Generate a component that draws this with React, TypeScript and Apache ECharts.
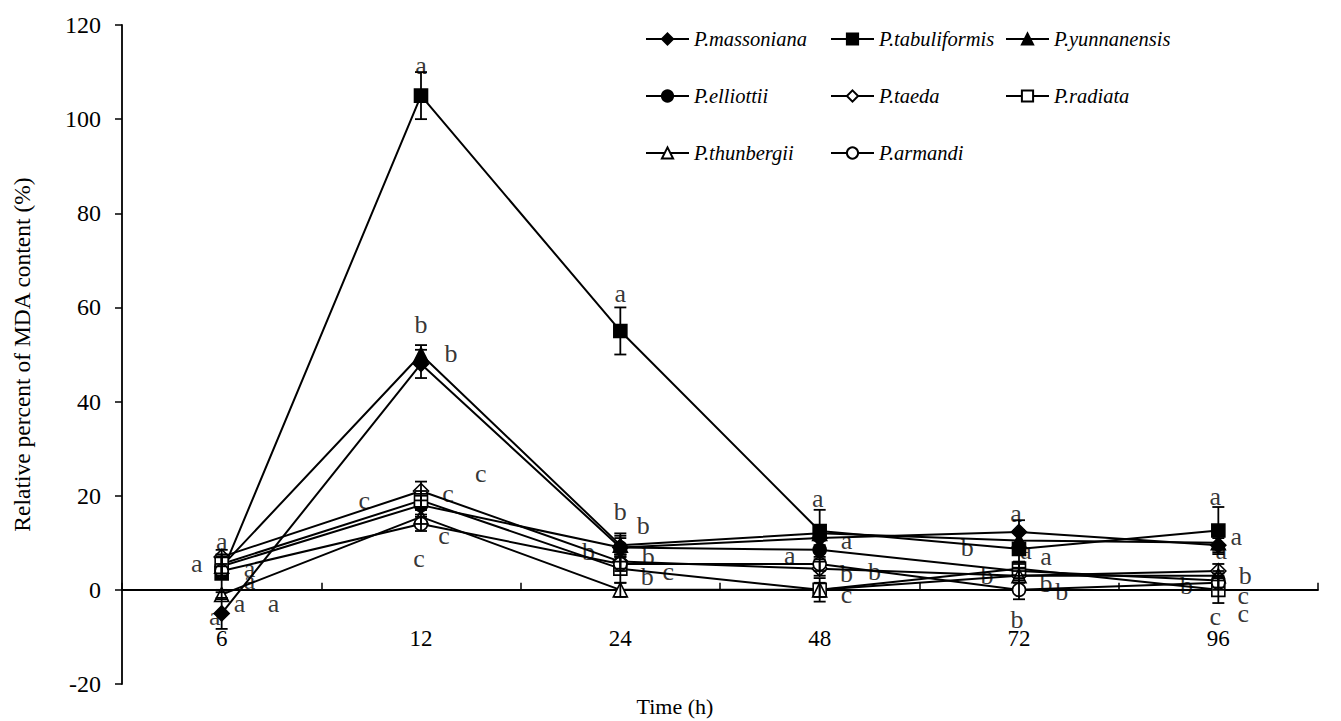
import React, { useEffect, useRef } from "react";
import * as echarts from "echarts";

const times = ["6", "12", "24", "48", "72", "96"];
const yTicks = { min: -20, max: 120, interval: 20 };

const massoniana = [-5, 48, 9, 11, 12.3, 9.5];
const tabuliformis = [3.5, 105, 55, 12.5, 8.7, 12.6];
const yunnanensis = [5, 50, 9.5, 12, 10.5, 10];
const elliottii = [5, 18, 9, 8.5, 4, 2];
const taeda = [7, 21, 6, 4.5, 3, 4];
const radiata = [5.5, 19, 4.5, 0, 4.5, 0];
const thunbergii = [-1, 15.5, 0, 0, 3, 3];
const armandi = [4, 14, 5.5, 5.5, 0, 1.5];

const errMassoniana = [3.3, 3, 2, 1.5, 2.5, 1.5];
const errTabuliformis = [4, 5, 5, 4.5, 4, 5];
const errYunnanensis = [2, 2, 2, 1.5, 2, 1.5];
const errElliottii = [2, 2, 3, 2, 1.5, 1.5];
const errTaeda = [1.5, 2, 1.5, 1.5, 1.5, 1.5];
const errRadiata = [2, 2, 3, 2.5, 1.5, 2.8];
const errThunbergii = [1, 1.5, 1.5, 1.5, 1, 1];
const errArmandi = [1, 1.5, 1.5, 1.5, 2, 1.5];

// significance letters: [category position, value, letter]
const letters: [number, number, string][] = [
  [0, 10.2, "a"], [-0.125, 5.5, "a"], [0.14, 4.5, "a"], [0.14, 2, "a"],
  [0.09, -3, "a"], [0.26, -3, "a"], [-0.035, -5.7, "a"],
  [1, 111.3, "a"], [1, 56.4, "b"], [1.15, 50.2, "b"], [1.3, 24.7, "c"],
  [0.715, 19, "c"], [1.135, 20.4, "c"], [1.115, 11.5, "c"], [0.99, 6.6, "c"],
  [2, 63, "a"], [2, 16.6, "b"], [2.115, 13.6, "b"], [1.84, 8.1, "b"],
  [2.14, 7, "b"], [2.135, 2.8, "b"], [2.24, 3.8, "c"],
  [2.99, 19.4, "a"], [3.135, 10.4, "a"], [2.85, 7.2, "a"], [3.135, 3.4, "b"],
  [3.275, 4, "b"], [3.135, -0.9, "c"],
  [3.985, 16.2, "a"], [3.74, 9.1, "b"], [4.035, 8.3, "a"], [4.135, 7, "a"],
  [3.84, 3, "b"], [4.135, 1.3, "b"], [4.215, -0.4, "b"], [3.99, -6.2, "b"],
  [4.985, 19.8, "a"], [5.09, 11.3, "a"], [5.015, 8.3, "a"], [5.135, 3, "b"],
  [5.125, -1.3, "c"], [5.125, -5.1, "c"], [4.985, -5.7, "c"], [4.84, 0.9, "b"],
];

const seriesDefs = [
  { name: "P.massoniana", data: massoniana, err: errMassoniana, symbol: "diamond", filled: true, size: 15 },
  { name: "P.tabuliformis", data: tabuliformis, err: errTabuliformis, symbol: "rect", filled: true, size: 13 },
  { name: "P.yunnanensis", data: yunnanensis, err: errYunnanensis, symbol: "triangle", filled: true, size: 14 },
  { name: "P.elliottii", data: elliottii, err: errElliottii, symbol: "circle", filled: true, size: 13 },
  { name: "P.taeda", data: taeda, err: errTaeda, symbol: "diamond", filled: false, size: 15 },
  { name: "P.radiata", data: radiata, err: errRadiata, symbol: "rect", filled: false, size: 13 },
  { name: "P.thunbergii", data: thunbergii, err: errThunbergii, symbol: "triangle", filled: false, size: 14 },
  { name: "P.armandi", data: armandi, err: errArmandi, symbol: "circle", filled: false, size: 13 },
];

const legendCols = [
  ["P.massoniana", "P.elliottii", "P.thunbergii"],
  ["P.tabuliformis", "P.taeda", "P.armandi"],
  ["P.yunnanensis", "P.radiata"],
];
const legendLefts = [640, 825, 1000];

const FONT = "Liberation Serif";
const GRID_TOP = 25;
const GRID_BOTTOM = 37;
const CHART_H = 721;

export default function App() {
  const ref = useRef<HTMLDivElement>(null);
  useEffect(() => {
    if (!ref.current) return;
    const chart = echarts.init(ref.current, undefined, { renderer: "svg" });

    // distance (px) from grid bottom up to the value 0 line
    const plotH = CHART_H - GRID_TOP - GRID_BOTTOM;
    const zeroOffset = (plotH * (0 - yTicks.min)) / (yTicks.max - yTicks.min);

    const lineSeries = seriesDefs.map((s) => ({
      type: "line",
      name: s.name,
      data: s.data,
      xAxisIndex: 0,
      symbol: s.symbol,
      symbolSize: s.size,
      showAllSymbol: true,
      lineStyle: { color: "#000", width: 2 },
      itemStyle: { color: s.filled ? "#000" : "#fff", borderColor: "#000", borderWidth: 1.6 },
      z: 3,
    }));

    const errSeries = seriesDefs.map((s) => ({
      type: "custom",
      name: s.name + " err",
      xAxisIndex: 0,
      data: s.data.map((v, i) => [i, v - s.err[i], v + s.err[i]]),
      encode: { x: 0, y: [1, 2] },
      renderItem: (params: any, api: any) => {
        const x = api.value(0);
        const lo = api.coord([x, api.value(1)]);
        const hi = api.coord([x, api.value(2)]);
        const h = 6;
        const st = { stroke: "#000", lineWidth: 1.8 };
        return {
          type: "group",
          children: [
            { type: "line", shape: { x1: lo[0], y1: lo[1], x2: hi[0], y2: hi[1] }, style: st },
            { type: "line", shape: { x1: lo[0] - h, y1: lo[1], x2: lo[0] + h, y2: lo[1] }, style: st },
            { type: "line", shape: { x1: hi[0] - h, y1: hi[1], x2: hi[0] + h, y2: hi[1] }, style: st },
          ],
        };
      },
      z: 4,
      silent: true,
    }));

    const letterSeries = {
      type: "scatter",
      name: "letters",
      xAxisIndex: 1,
      data: letters.map((l) => [l[0], l[1], l[2]]),
      symbolSize: 1,
      itemStyle: { color: "rgba(0,0,0,0)" },
      label: {
        show: true,
        position: "inside",
        formatter: (p: any) => p.data[2],
        fontFamily: FONT,
        fontSize: 26,
        color: "#000",
      },
      labelLayout: { hideOverlap: false },
      z: 5,
      silent: true,
    };

    chart.setOption({
      animation: false,
      backgroundColor: "#fff",
      textStyle: { fontFamily: FONT },
      title: {
        text: "Time (h)",
        left: 670,
        top: 690,
        textAlign: "center",
        textStyle: { fontFamily: FONT, fontSize: 22, fontWeight: "normal", color: "#000" },
      },
      legend: legendCols.map((col, i) => ({
        orient: "vertical",
        left: legendLefts[i],
        top: 24,
        data: col,
        itemGap: 37,
        itemWidth: 43,
        itemHeight: 14,
        textStyle: { fontFamily: FONT, fontStyle: "italic", fontSize: 20.5, color: "#000" },
      })),
      grid: { left: 122, right: 23, top: GRID_TOP, bottom: GRID_BOTTOM, outerBoundsMode: "none", containLabel: false },
      xAxis: [
        {
          type: "category",
          data: times,
          boundaryGap: true,
          offset: -zeroOffset,
          axisLine: { onZero: false, lineStyle: { color: "#000", width: 1.8 } },
          axisTick: { show: true, inside: true, length: 7, lineStyle: { color: "#000", width: 1.5 } },
          axisLabel: { margin: 37, fontFamily: FONT, fontSize: 23, color: "#000" },
          splitLine: { show: false },
        },
        { type: "value", min: -0.5, max: 5.5, show: false },
      ],
      yAxis: {
        type: "value",
        min: yTicks.min,
        max: yTicks.max,
        interval: yTicks.interval,
        name: "Relative percent of MDA content (%)",
        nameLocation: "middle",
        nameGap: 88,
        nameTextStyle: { fontFamily: FONT, fontSize: 23.5, color: "#000" },
        axisLine: { show: true, onZero: false, lineStyle: { color: "#000", width: 1.8 } },
        axisTick: { show: true, length: 7, lineStyle: { color: "#000", width: 1.5 } },
        axisLabel: { margin: 21, fontFamily: FONT, fontSize: 24, color: "#000" },
        splitLine: { show: false },
      },
      series: [...lineSeries, ...errSeries, letterSeries],
    });
    return () => chart.dispose();
  }, []);
  return (
    <div
      ref={ref}
      style={{ position: "fixed", left: 0, top: 0, width: 1341, height: CHART_H, background: "#fff" }}
    />
  );
}
